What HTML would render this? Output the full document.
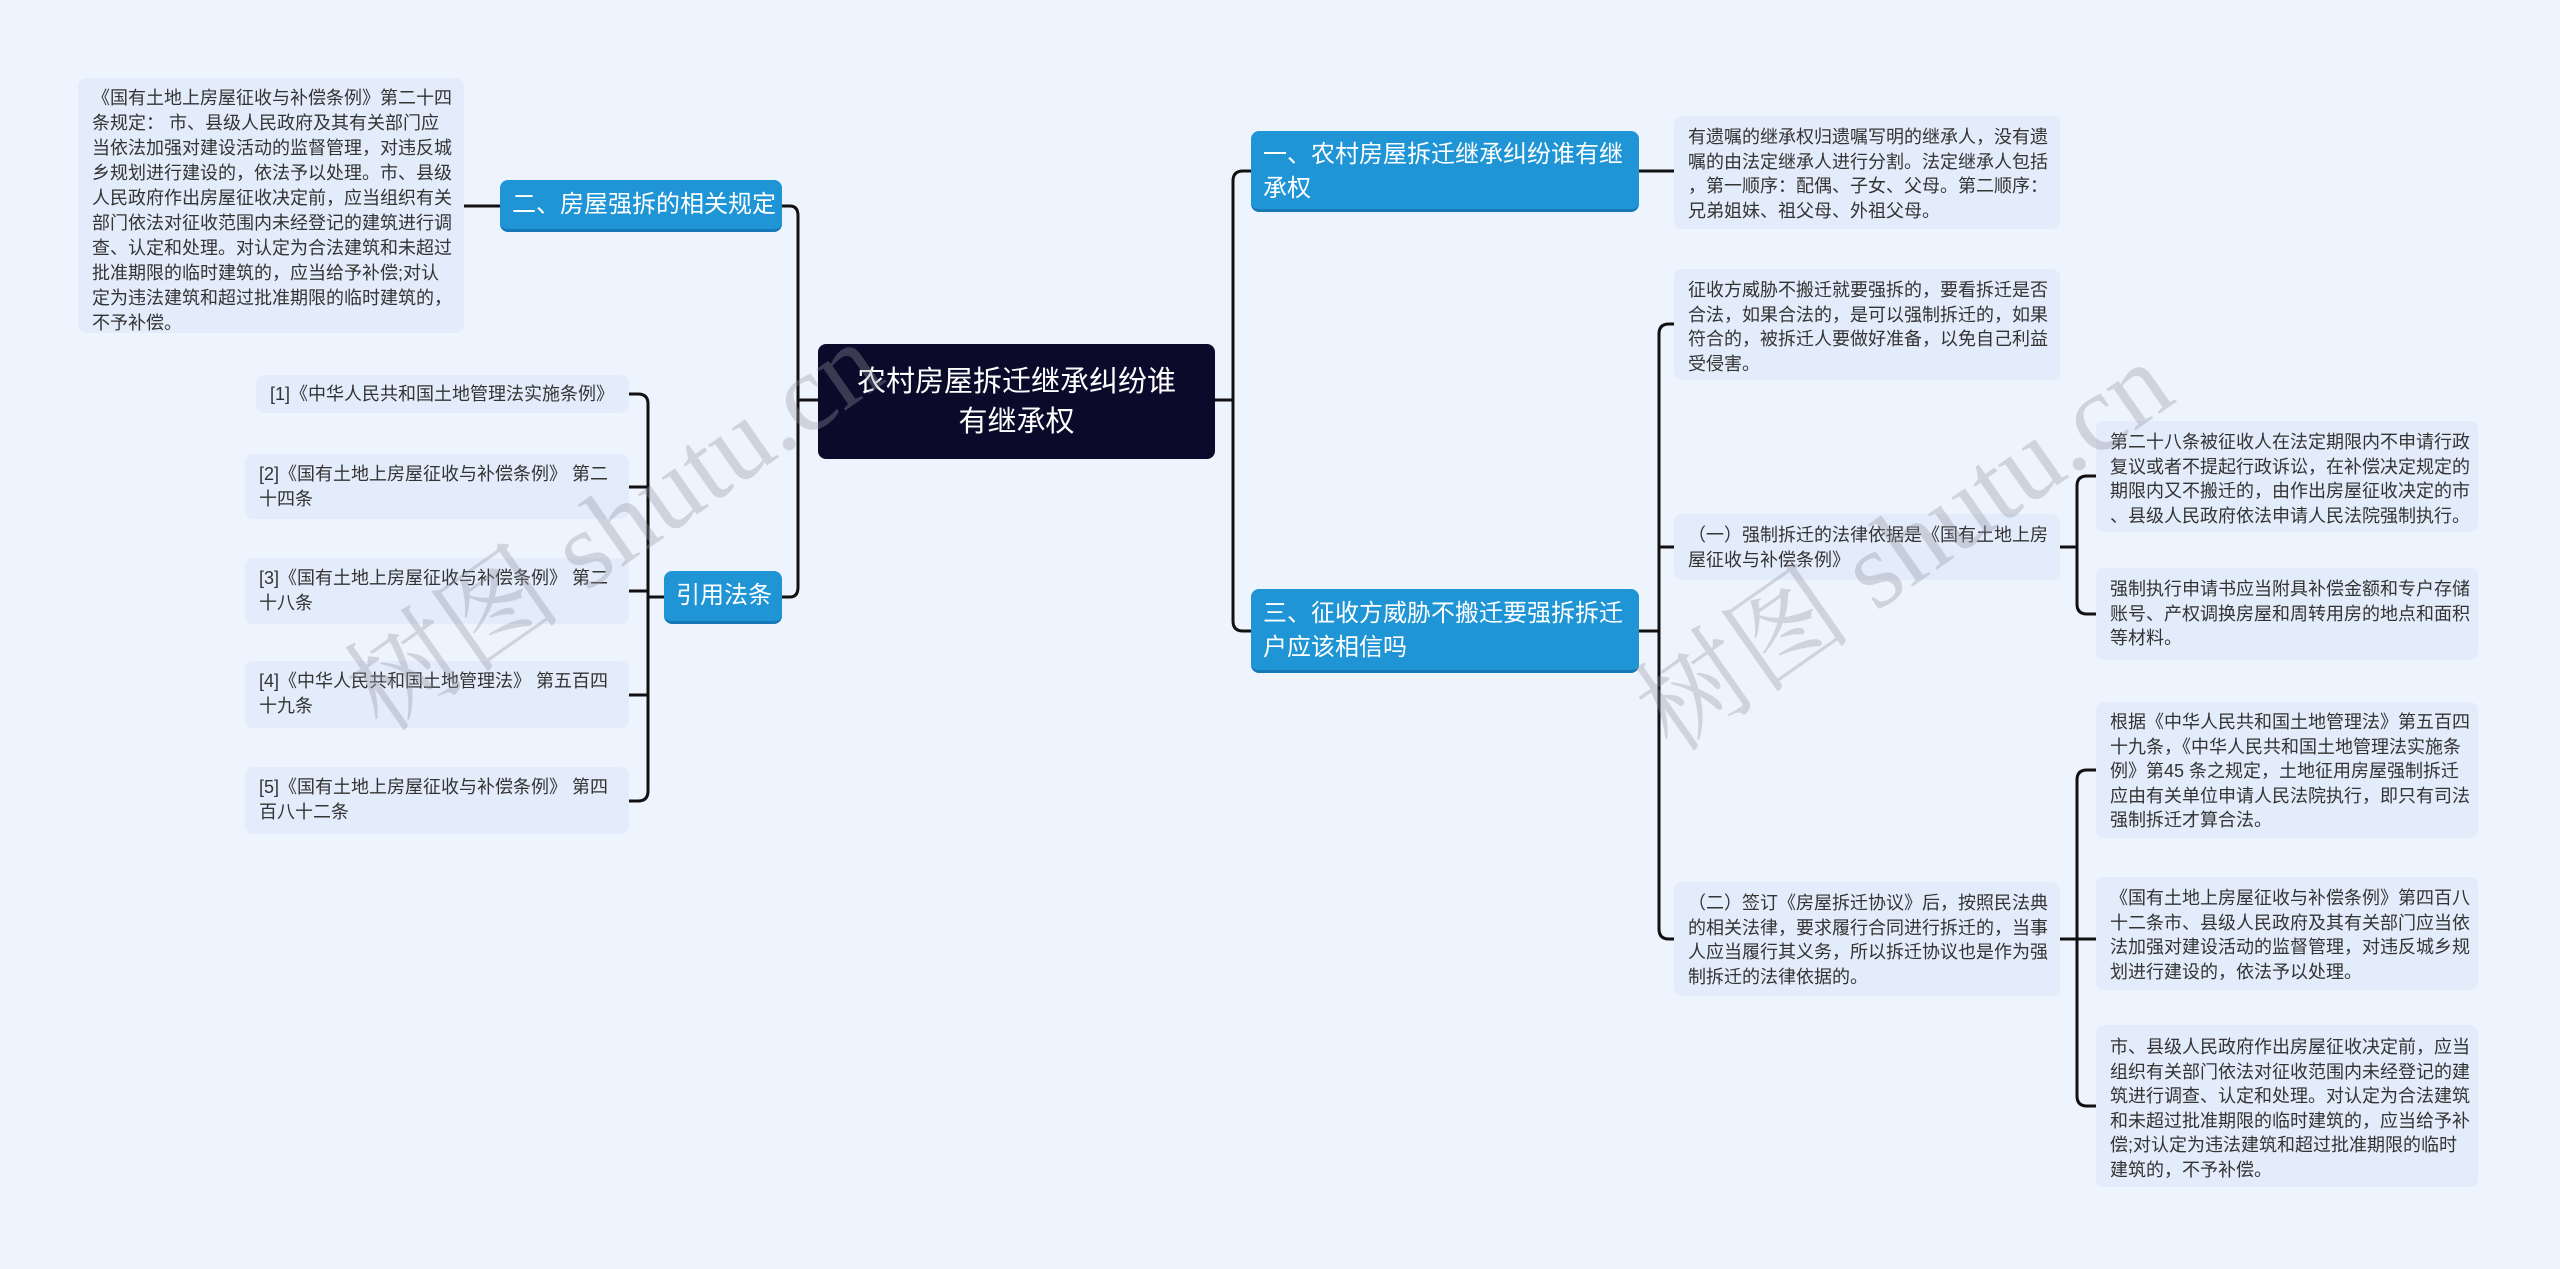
<!DOCTYPE html>
<html><head><meta charset="utf-8">
<style>
*{margin:0;padding:0;box-sizing:border-box}
body{width:2560px;height:1269px;background:#eef4fe;position:relative;overflow:hidden;font-family:"Liberation Sans","Noto Sans CJK SC",sans-serif;}
.b{position:absolute;border-radius:8px;}
.t{background:#e3ecfb;color:#333;font-size:18px;line-height:24.5px;padding:12px 14px;white-space:nowrap;}
.m{background:#1f95d6;color:#fff;font-size:24px;line-height:34px;padding:8px 12px;white-space:nowrap;border-bottom:3px solid #1679b5;}
.c{background:#0c0a2a;color:#fff;font-size:29px;line-height:40px;text-align:center;display:flex;align-items:center;justify-content:center;}
.wm{position:absolute;font-family:"Liberation Serif","Noto Serif CJK SC",serif;font-size:110px;color:rgba(150,150,160,0.35);transform:rotate(-35deg);white-space:nowrap;}
svg{position:absolute;left:0;top:0}
</style></head><body>
<svg width="2560" height="1269" fill="none" stroke="#111" stroke-width="3">
<path d="M1215 400 H1233"/>
<path d="M1251 171 H1243 Q1233 171 1233 181 V621 Q1233 631 1243 631 H1251"/>
<path d="M818 400 H798"/>
<path d="M782 206 H790 Q798 206 798 216 V587 Q798 597 790 597 H782"/>
<path d="M500 206 H464"/>
<path d="M664 597 H648"/>
<path d="M629 394 H638 Q648 394 648 404 V791 Q648 801 638 801 H629"/>
<path d="M629 487 H648 M629 591 H648 M629 695 H648"/>
<path d="M1639 631 H1659"/>
<path d="M1674 324 H1669 Q1659 324 1659 334 V929 Q1659 939 1669 939 H1674"/>
<path d="M1659 547 H1674"/>
<path d="M1639 171 H1674"/>
<path d="M2060 547 H2077"/>
<path d="M2096 476 H2087 Q2077 476 2077 486 V604 Q2077 614 2087 614 H2096"/>
<path d="M2060 939 H2077"/>
<path d="M2096 770 H2087 Q2077 770 2077 780 V1096 Q2077 1106 2087 1106 H2096"/>
<path d="M2077 939 H2096"/>
</svg>

<div class="b c" style="left:818px;top:344px;width:397px;height:115px;">农村房屋拆迁继承纠纷谁<br>有继承权</div>

<div class="b m" style="left:500px;top:180px;width:282px;height:52px;">二、房屋强拆的相关规定</div>
<div class="b m" style="left:664px;top:571px;width:118px;height:53px;text-align:center;">引用法条</div>

<div class="b t" style="left:78px;top:78px;width:386px;height:255px;line-height:25px;padding-top:8px;">《国有土地上房屋征收与补偿条例》第二十四<br>条规定： 市、县级人民政府及其有关部门应<br>当依法加强对建设活动的监督管理，对违反城<br>乡规划进行建设的，依法予以处理。市、县级<br>人民政府作出房屋征收决定前，应当组织有关<br>部门依法对征收范围内未经登记的建筑进行调<br>查、认定和处理。对认定为合法建筑和未超过<br>批准期限的临时建筑的，应当给予补偿;对认<br>定为违法建筑和超过批准期限的临时建筑的，<br>不予补偿。</div>

<div class="b t" style="left:256px;top:375px;width:373px;height:38px;padding-top:7px;">[1]《中华人民共和国土地管理法实施条例》</div>
<div class="b t" style="left:245px;top:454px;width:384px;height:65px;padding-top:8px;">[2]《国有土地上房屋征收与补偿条例》 第二<br>十四条</div>
<div class="b t" style="left:245px;top:558px;width:384px;height:66px;padding-top:8px;">[3]《国有土地上房屋征收与补偿条例》 第二<br>十八条</div>
<div class="b t" style="left:245px;top:661px;width:384px;height:67px;padding-top:8px;">[4]《中华人民共和国土地管理法》 第五百四<br>十九条</div>
<div class="b t" style="left:245px;top:767px;width:384px;height:67px;padding-top:8px;">[5]《国有土地上房屋征收与补偿条例》 第四<br>百八十二条</div>

<div class="b m" style="left:1251px;top:131px;width:388px;height:81px;padding-top:7px;">一、农村房屋拆迁继承纠纷谁有继<br>承权</div>
<div class="b m" style="left:1251px;top:589px;width:388px;height:84px;padding-top:8px;">三、征收方威胁不搬迁要强拆拆迁<br>户应该相信吗</div>

<div class="b t" style="left:1674px;top:116px;width:386px;height:113px;padding-top:9px;">有遗嘱的继承权归遗嘱写明的继承人，没有遗<br>嘱的由法定继承人进行分割。法定继承人包括<br>，第一顺序：配偶、子女、父母。第二顺序：<br>兄弟姐妹、祖父母、外祖父母。</div>
<div class="b t" style="left:1674px;top:269px;width:386px;height:111px;padding-top:9px;">征收方威胁不搬迁就要强拆的，要看拆迁是否<br>合法，如果合法的，是可以强制拆迁的，如果<br>符合的，被拆迁人要做好准备，以免自己利益<br>受侵害。</div>
<div class="b t" style="left:1674px;top:514px;width:386px;height:66px;padding-top:9px;">（一）强制拆迁的法律依据是《国有土地上房<br>屋征收与补偿条例》</div>
<div class="b t" style="left:1674px;top:882px;width:386px;height:114px;padding-top:9px;">（二）签订《房屋拆迁协议》后，按照民法典<br>的相关法律，要求履行合同进行拆迁的，当事<br>人应当履行其义务，所以拆迁协议也是作为强<br>制拆迁的法律依据的。</div>

<div class="b t" style="left:2096px;top:421px;width:382px;height:111px;padding-top:9px;">第二十八条被征收人在法定期限内不申请行政<br>复议或者不提起行政诉讼，在补偿决定规定的<br>期限内又不搬迁的，由作出房屋征收决定的市<br>、县级人民政府依法申请人民法院强制执行。</div>
<div class="b t" style="left:2096px;top:568px;width:382px;height:92px;padding-top:9px;">强制执行申请书应当附具补偿金额和专户存储<br>账号、产权调换房屋和周转用房的地点和面积<br>等材料。</div>
<div class="b t" style="left:2096px;top:702px;width:382px;height:136px;padding-top:8px;">根据《中华人民共和国土地管理法》第五百四<br>十九条，《中华人民共和国土地管理法实施条<br>例》第45 条之规定，土地征用房屋强制拆迁<br>应由有关单位申请人民法院执行，即只有司法<br>强制拆迁才算合法。</div>
<div class="b t" style="left:2096px;top:877px;width:382px;height:113px;padding-top:9px;">《国有土地上房屋征收与补偿条例》第四百八<br>十二条市、县级人民政府及其有关部门应当依<br>法加强对建设活动的监督管理，对违反城乡规<br>划进行建设的，依法予以处理。</div>
<div class="b t" style="left:2096px;top:1025px;width:382px;height:162px;padding-top:10px;">市、县级人民政府作出房屋征收决定前，应当<br>组织有关部门依法对征收范围内未经登记的建<br>筑进行调查、认定和处理。对认定为合法建筑<br>和未超过批准期限的临时建筑的，应当给予补<br>偿;对认定为违法建筑和超过批准期限的临时<br>建筑的，不予补偿。</div>

<div class="wm" style="left:300px;top:440px;">树图 shutu.cn</div>
<div class="wm" style="left:1590px;top:460px;">树图 shutu.cn</div>
</body></html>
